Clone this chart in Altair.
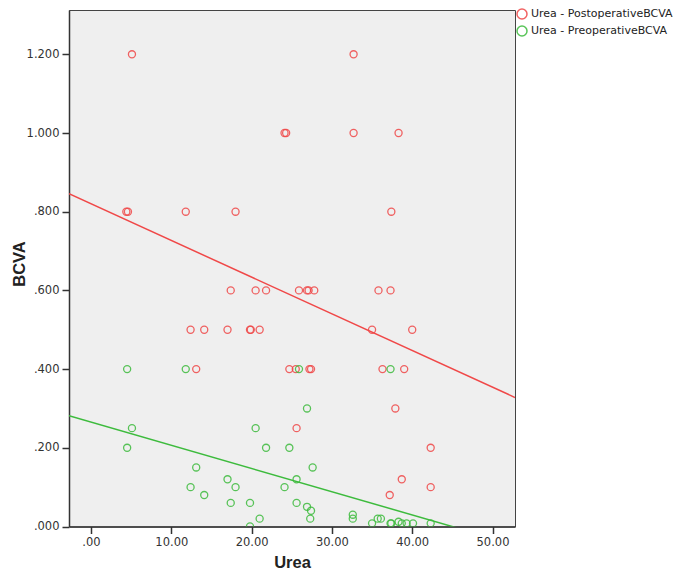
import altair as alt
import pandas as pd

post_label = "Urea - PostoperativeBCVA"
pre_label = "Urea - PreoperativeBCVA"

post_urea = [5.1, 32.7, 24.1, 24.3, 32.7, 38.3, 4.4, 4.6, 11.8, 18.0, 37.4,
             17.4, 20.5, 21.8, 25.9, 26.9, 27.1, 27.8, 35.8, 37.3,
             12.4, 14.1, 17.0, 19.8, 19.9, 21.0, 35.0, 40.0,
             13.1, 24.7, 25.5, 27.2, 27.4, 36.3, 39.0,
             37.9, 25.6, 42.3, 38.7, 42.3, 37.2]
post_bcva = [1.2, 1.2, 1.0, 1.0, 1.0, 1.0, 0.8, 0.8, 0.8, 0.8, 0.8,
             0.6, 0.6, 0.6, 0.6, 0.6, 0.6, 0.6, 0.6, 0.6,
             0.5, 0.5, 0.5, 0.5, 0.5, 0.5, 0.5, 0.5,
             0.4, 0.4, 0.4, 0.4, 0.4, 0.4, 0.4,
             0.3, 0.25, 0.2, 0.12, 0.1, 0.08]

pre_urea = [4.5, 11.8, 25.9, 37.3, 26.9, 5.1, 20.5, 4.5, 21.8, 24.7,
            13.1, 27.6, 17.0, 25.6, 12.4, 18.0, 24.1, 14.1,
            17.4, 19.8, 25.6, 26.9, 27.4, 21.0, 27.3, 32.6, 32.6, 35.7, 36.1,
            19.8, 35.0, 37.3, 37.4, 38.3, 38.7, 39.3, 40.1, 42.3]
pre_bcva = [0.4, 0.4, 0.4, 0.4, 0.3, 0.25, 0.25, 0.2, 0.2, 0.2,
            0.15, 0.15, 0.12, 0.12, 0.1, 0.1, 0.1, 0.08,
            0.06, 0.06, 0.06, 0.05, 0.04, 0.02, 0.02, 0.03, 0.02, 0.02, 0.02,
            0.0, 0.008, 0.008, 0.008, 0.012, 0.008, 0.008, 0.008, 0.008]

x_ticks = [0, 10, 20, 30, 40, 50]
y_ticks = [0, 0.2, 0.4, 0.6, 0.8, 1.0, 1.2]
x_domain = [-2.74, 52.8]
y_domain = [0, 1.3126]

series_names = [post_label, pre_label]
series_colors = ["#f04848", "#3dbb3d"]

df = pd.concat([
    pd.DataFrame({"Urea": post_urea, "BCVA": post_bcva, "series": post_label}),
    pd.DataFrame({"Urea": pre_urea, "BCVA": pre_bcva, "series": pre_label}),
])

x_enc = alt.X("Urea:Q",
              scale=alt.Scale(domain=x_domain, nice=False, zero=False),
              axis=alt.Axis(values=x_ticks, title="Urea",
                            labelExpr="datum.value < 1 ? substring(format(datum.value, '.2f'), 1) : format(datum.value, '.2f')",
                            titleY=41, titleBaseline="alphabetic"))
y_enc = alt.Y("BCVA:Q",
              scale=alt.Scale(domain=y_domain, nice=False, zero=False),
              axis=alt.Axis(values=y_ticks, title="BCVA",
                            labelExpr="datum.value < 1 ? substring(format(datum.value, '.3f'), 1) : format(datum.value, '.3f')",
                            titleX=-50, titleY=253.5, titleBaseline="middle"))
color_enc = alt.Color("series:N",
                      scale=alt.Scale(domain=series_names, range=series_colors),
                      legend=alt.Legend(title=None, orient="none", legendX=447, legendY=-2,
                                        symbolType="circle", symbolSize=100,
                                        symbolStrokeWidth=1.5, symbolFillColor="transparent",
                                        labelFont="DejaVu Sans", labelFontSize=11,
                                        labelColor="#222", labelOffset=3,
                                        rowPadding=1, padding=0))

points = alt.Chart(df).mark_point(filled=False, size=50, strokeWidth=1.3, opacity=0.85,
                                  clip=True).encode(x=x_enc, y=y_enc, color=color_enc)

lines = alt.Chart(df).transform_regression(
    "Urea", "BCVA", groupby=["series"], extent=x_domain
).mark_line(strokeWidth=1.5, clip=True).encode(
    x=alt.X("Urea:Q"), y=alt.Y("BCVA:Q"),
    color=alt.Color("series:N", legend=None)
)

chart = alt.layer(points, lines).properties(
    width=446, height=516.5,
    autosize=alt.AutoSizeParams(type="none"),
    padding={"left": 61, "top": 2, "right": 161, "bottom": 43},
    background="white",
).configure_view(
    fill="#efefef", stroke="#444", strokeWidth=1
).configure_axis(
    grid=False, domainColor="#333", domainWidth=1.5,
    tickColor="#333", tickSize=7, tickWidth=1.5,
    labelFont="DejaVu Sans", labelFontSize=11.5, labelColor="#333", labelPadding=3,
    titleFont="Liberation Sans", titleFontSize=16.5, titleFontWeight="bold", titleColor="#222"
)

chart.save("out.html", embed_options={"renderer": "svg", "actions": False})
